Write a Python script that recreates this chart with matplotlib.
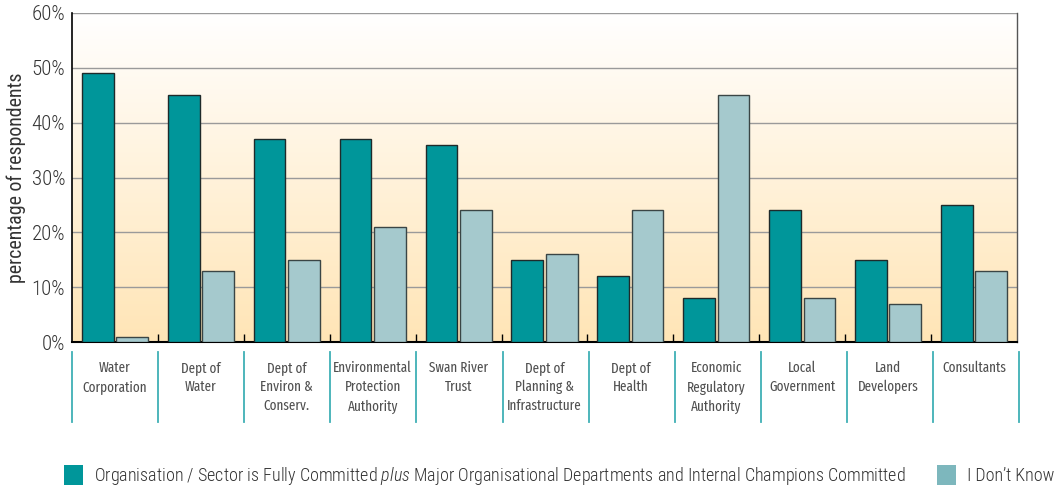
import numpy as np
import matplotlib.pyplot as plt
from matplotlib.patches import Patch
from matplotlib.colors import LinearSegmentedColormap

plt.rcParams['font.family'] = ['Roboto Condensed', 'DejaVu Sans']
plt.rcParams['font.weight'] = 'light'
plt.rcParams['mathtext.fontset'] = 'custom'
plt.rcParams['mathtext.it'] = 'Roboto Condensed:italic:light'
plt.rcParams['mathtext.rm'] = 'Roboto Condensed:light'

categories = ['Water\nCorporation', 'Dept of\nWater', 'Dept of\nEnviron &\nConserv.',
              'Environmental\nProtection\nAuthority', 'Swan River\nTrust',
              'Dept of\nPlanning &\nInfrastructure', 'Dept of\nHealth',
              'Economic\nRegulatory\nAuthority', 'Local\nGovernment', 'Land\nDevelopers',
              'Consultants']
committed = [49, 45, 37, 37, 36, 15, 12, 8, 24, 15, 25]
dont_know = [1, 13, 15, 21, 24, 16, 24, 45, 8, 7, 13]
yticks = [0, 10, 20, 30, 40, 50, 60]

teal = '#00969A'
light = '#A5C9CD'
light_legend = '#7DB7BD'
sep_color = '#3FB0B5'

fig = plt.figure(figsize=(10.63, 4.88), dpi=100)
ax = fig.add_axes([72 / 1063, 1 - 342 / 488, (1017 - 72) / 1063, (342 - 13) / 488])

n = len(categories)
x = np.arange(n)

# background gradient, white at top to pale orange at bottom
grad = np.linspace(1, 0, 256).reshape(-1, 1)
cmap = LinearSegmentedColormap.from_list('bg', ['#FFE5B6', '#FFFFFF'])
ax.imshow(grad, aspect='auto', cmap=cmap, extent=[0, n, 0, 60], origin='upper', zorder=0)

ax.set_xlim(0, n)
ax.set_ylim(0, 60)

for y in yticks[1:]:
    ax.axhline(y, color='#9a9a9a', lw=1.0, zorder=1)

w = 0.37
ax.bar(x + 0.5 - 0.2, committed, w, color=teal, edgecolor='#1f2a2a', lw=1.0, zorder=3)
ax.bar(x + 0.5 + 0.2, dont_know, w, color=light, edgecolor='#3a4545', lw=1.0, zorder=3)

ax.set_yticks(yticks)
ax.set_yticklabels([f'{v}%' for v in yticks], fontsize=15, color='#333333')
ax.tick_params(axis='y', length=0, pad=5)
ax.set_xticks(np.arange(1, n))
ax.set_xticklabels([])
ax.tick_params(axis='x', direction='in', length=6, width=1, color='black')
ax.set_ylabel('percentage of respondents', fontsize=14.3, color='#333333', labelpad=4)

ax.spines['top'].set_visible(False)
ax.spines['left'].set_linewidth(1.2)
ax.spines['bottom'].set_linewidth(1.5)
ax.spines['right'].set_color('#555555')
ax.spines['right'].set_linewidth(1.0)

# category separators and labels below the axis
trans = ax.get_xaxis_transform()
for b in range(n + 1):
    xb = b * 1.0025
    ax.plot([xb, xb], [-0.03, -0.243], color=sep_color, lw=1.3, transform=trans, clip_on=False)

label_font = ['Fira Sans Extra Condensed', 'Roboto Condensed']
for i, lab in enumerate(categories):
    ax.text(i + 0.5, -0.058, lab, transform=trans, ha='center', va='top',
            family=label_font, fontweight='normal',
            fontsize=10.3, color='#505050', linespacing=1.42)

handles = [Patch(facecolor=teal, edgecolor='none'), Patch(facecolor=light_legend, edgecolor='none')]
labels = ['Organisation / Sector is Fully Committed $\\it{plus}$ Major Organisational Departments and Internal Champions Committed',
          "I Don\u2019t Know"]
fig.legend(handles, labels, loc='center left', bbox_to_anchor=(57 / 1063, 1 - 476 / 488), ncol=2,
           frameon=False, fontsize=13.0, handlelength=1.05, handleheight=1.3, handletextpad=0.6,
           columnspacing=1.75, labelcolor='#333333', borderaxespad=0)

fig.savefig('out.png', dpi=100)
